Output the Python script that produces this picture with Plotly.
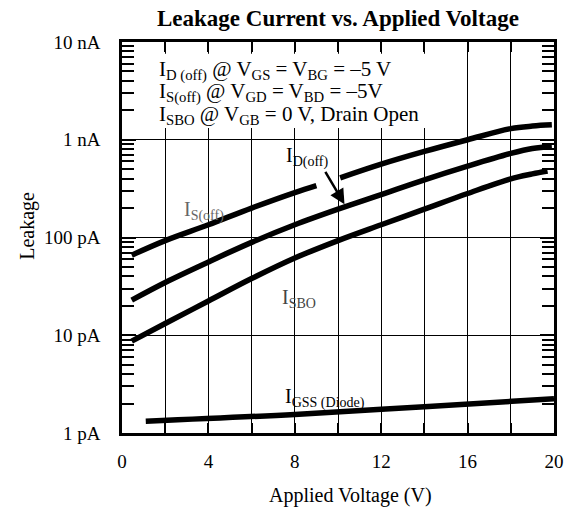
import plotly.graph_objects as go

# ---- data (currents in pA, voltage in V) ----
voltage_s = [0.45, 2, 4, 6, 8, 9.0, None, 10.1, 12, 14, 16, 18, 19, 19.9]
is_off_pA = [66, 93, 135, 200, 288, 339, None, 407, 562, 759, 1000, 1300, 1380, 1420]

voltage_d = [0.45, 2, 4, 6, 8, 10, 12, 14, 16, 18, 19, 19.9]
id_off_pA = [22.9, 34.7, 56.2, 89.1, 135, 195, 275, 389, 537, 724, 813, 851]

voltage_b = [0.45, 2, 4, 6, 8, 10, 12, 14, 16, 18, 19, 19.7]
isbo_pA = [8.7, 13.2, 22.4, 38.0, 61.7, 93, 135, 195, 282, 398, 447, 479]

voltage_g = [1.1, 8, 14, 20]
igss_pA = [1.32, 1.55, 1.86, 2.24]

y_tickvals = [1e-12, 1e-11, 1e-10, 1e-9, 1e-8]
y_ticktext = ["1 pA", "10 pA", "100 pA", "1 nA", "10 nA"]
x_tickvals = [0, 2, 4, 6, 8, 10, 12, 14, 16, 18, 20]
x_ticktext = ["0", "", "4", "", "8", "", "12", "", "16", "", "20"]

FONT = "Liberation Serif, Times New Roman, serif"


def amps(vals):
    return [None if v is None else v * 1e-12 for v in vals]


minor_vals = [k * 10.0 ** e for e in range(-12, -8) for k in range(2, 10)]

fig = go.Figure()
line = dict(color="black", width=5.5, shape="spline", smoothing=1.0)
for xs, ys in [(voltage_s, is_off_pA), (voltage_d, id_off_pA),
               (voltage_b, isbo_pA), (voltage_g, igss_pA)]:
    fig.add_trace(go.Scatter(x=xs, y=amps(ys), mode="lines", line=line,
                             connectgaps=False, showlegend=False, hoverinfo="skip"))

# helper trace for right-hand axis ticks
fig.add_trace(go.Scatter(x=[0], y=[1e-12], yaxis="y2", mode="markers",
                         marker=dict(opacity=0), showlegend=False, hoverinfo="skip"))

fig.update_layout(
    width=576, height=507,
    margin=dict(l=122, r=20, t=42, b=74),
    paper_bgcolor="white", plot_bgcolor="white",
    font=dict(family=FONT, color="black", size=19),
    xaxis=dict(range=[0, 20], tickmode="array", tickvals=x_tickvals, ticktext=x_ticktext,
               showgrid=True, gridcolor="black", gridwidth=1,
               ticks="inside", ticklen=10, tickwidth=1.5, tickcolor="black",
               showline=True, linecolor="black", linewidth=2.5, mirror="ticks",
               zeroline=False, ticklabelstandoff=9,
               tickfont=dict(size=19, family=FONT)),
    yaxis=dict(type="log", range=[-12, -8], tickmode="array",
               tickvals=y_tickvals, ticktext=y_ticktext,
               showgrid=True, gridcolor="black", gridwidth=1.2,
               ticks="inside", ticklen=14, tickwidth=1.5, tickcolor="black",
               minor=dict(tickmode="array", tickvals=minor_vals, ticks="inside",
                          ticklen=12, tickwidth=1.5, tickcolor="black", showgrid=False),
               showline=True, linecolor="black", linewidth=2.5, mirror=True,
               zeroline=False, ticklabelstandoff=15,
               tickfont=dict(size=19, family=FONT)),
    yaxis2=dict(type="log", range=[-12, -8], overlaying="y", side="right",
                tickmode="array", tickvals=y_tickvals, showticklabels=False,
                showgrid=False, ticks="inside", ticklen=14, tickwidth=1.5, tickcolor="black",
                minor=dict(tickmode="array", tickvals=minor_vals, ticks="inside",
                           ticklen=12, tickwidth=1.5, tickcolor="black", showgrid=False),
                showline=False, zeroline=False),
)

# blank area behind the condition text (gridlines interrupted there)
fig.add_shape(type="rect", xref="x", yref="paper", x0=1.0, x1=15.0, y0=0.78, y1=0.97,
              fillcolor="white", line=dict(width=0), layer="above")

ann = []
# title
ann.append(dict(text="<b>Leakage Current vs. Applied Voltage</b>", xref="paper", yref="paper",
                x=0.5, y=1.0, yshift=24, xanchor="center", yanchor="middle",
                showarrow=False, font=dict(size=23, family=FONT)))
# axis titles
ann.append(dict(text="Applied Voltage (V)", xref="paper", yref="paper",
                x=0.528, y=0, yshift=-62, xanchor="center", yanchor="middle",
                showarrow=False, font=dict(size=20, family=FONT)))
ann.append(dict(text="Leakage", xref="paper", yref="paper", textangle=-90,
                x=0, xshift=-94, y=0.53, xanchor="center", yanchor="middle",
                showarrow=False, font=dict(size=20, family=FONT)))
# condition text
cond = [
    ("I<sub>D (off)</sub> @ V<sub>GS</sub> = V<sub>BG</sub> = \u20135 V", -8.29),
    ("I<sub>S(off)</sub> @ V<sub>GD</sub> = V<sub>BD</sub> = \u20135V", -8.52),
    ("I<sub>SBO</sub> @ V<sub>GB</sub> = 0 V, Drain Open", -8.75),
]
for t, ly in cond:
    ann.append(dict(text=t, x=1.6, y=ly, xref="x", yref="y", xanchor="left",
                    yanchor="middle", showarrow=False, font=dict(size=21, family=FONT)))
# curve labels
ann.append(dict(text="I<sub>S(off)</sub>", x=3.8, y=-9.73, xref="x", yref="y",
                showarrow=False, font=dict(size=20, family=FONT, color="#666666")))
ann.append(dict(text="I<sub>SBO</sub>", x=8.2, y=-10.62, xref="x", yref="y",
                showarrow=False, font=dict(size=20, family=FONT, color="#444444")))
ann.append(dict(text="I<sub>GSS (Diode)</sub>", x=9.4, y=-11.64, xref="x", yref="y",
                showarrow=False, font=dict(size=20, family=FONT)))
ann.append(dict(text="I<sub>D(off)</sub>", x=8.6, y=-9.18, xref="x", yref="y",
                showarrow=False, font=dict(size=20, family=FONT)))
ann.append(dict(text="", x=10.3, y=-9.66, xref="x", yref="y", showarrow=True,
                ax=-20, ay=-34, arrowhead=2, arrowsize=1.2, arrowwidth=2.5,
                arrowcolor="black"))
fig.update_layout(annotations=ann)

fig.write_html("out.html", config={"displayModeBar": False},
               post_script="document.body.style.margin='0';document.body.style.overflow='hidden';")
